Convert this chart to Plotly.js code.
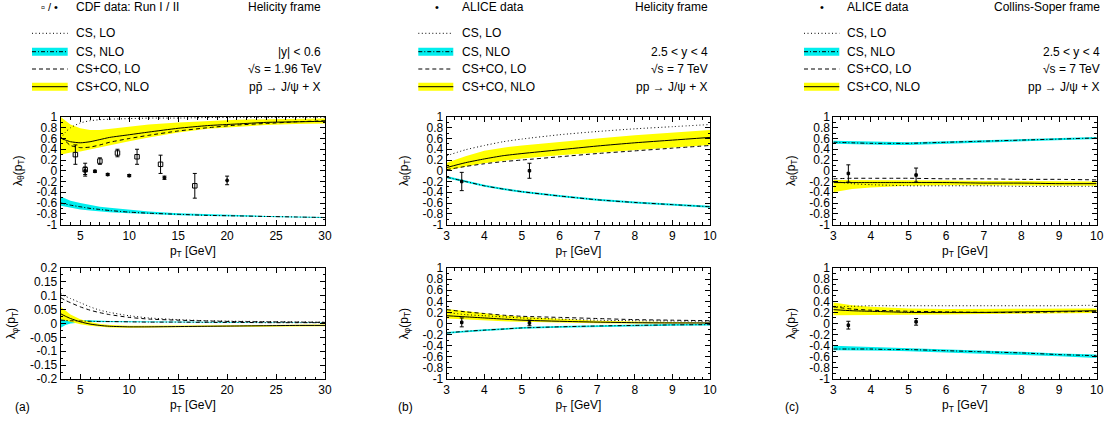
<!DOCTYPE html>
<html><head><meta charset="utf-8">
<script src="https://cdn.plot.ly/plotly-3.0.1.min.js"></script>
<style>html,body{margin:0;padding:0;background:#fff}#chart{width:1110px;height:421px}</style>
</head><body><div id="chart"></div>
<script>
// ---------- DATA ----------
// Panel (a): CDF, helicity frame
const ptA = [3, 3.5, 4, 5, 6, 7, 8, 10, 12, 15, 18, 21, 24, 27, 30];
const aThCSLO      = [0.60, 0.72, 0.80, 0.89, 0.93, 0.95, 0.96, 0.97, 0.98, 0.98, 0.99, 0.99, 0.99, 0.99, 0.99];
const aThCSNLO     = [-0.60, -0.62, -0.64, -0.67, -0.70, -0.72, -0.74, -0.77, -0.79, -0.81, -0.83, -0.84, -0.85, -0.86, -0.87];
const aThCSNLOlo   = [-0.65, -0.67, -0.69, -0.72, -0.74, -0.76, -0.77, -0.79, -0.81, -0.83, -0.84, -0.85, -0.86, -0.87, -0.88];
const aThCSNLOhi   = [-0.48, -0.52, -0.56, -0.60, -0.64, -0.67, -0.69, -0.73, -0.76, -0.79, -0.81, -0.83, -0.84, -0.85, -0.86];
const aThCOLO      = [0.62, 0.55, 0.47, 0.43, 0.44, 0.48, 0.53, 0.60, 0.66, 0.74, 0.80, 0.85, 0.88, 0.91, 0.93];
const aThCONLO     = [0.61, 0.57, 0.54, 0.52, 0.54, 0.58, 0.62, 0.67, 0.72, 0.79, 0.84, 0.87, 0.90, 0.91, 0.92];
const aThCONLOlo   = [0.30, 0.32, 0.34, 0.36, 0.40, 0.44, 0.48, 0.55, 0.62, 0.71, 0.78, 0.82, 0.85, 0.87, 0.88];
const aThCONLOhi   = [1.00, 0.93, 0.86, 0.79, 0.76, 0.76, 0.78, 0.82, 0.86, 0.90, 0.93, 0.95, 0.96, 0.97, 0.97];
const aPhCSLO      = [0.108, 0.098, 0.090, 0.075, 0.060, 0.048, 0.040, 0.028, 0.020, 0.014, 0.010, 0.008, 0.007, 0.006, 0.005];
const aPhCSNLO     = [0.012, 0.011, 0.010, 0.009, 0.008, 0.007, 0.007, 0.006, 0.005, 0.005, 0.004, 0.004, 0.003, 0.003, 0.003];
const aPhCSNLOlo   = [-0.015, -0.005, 0.000, 0.004, 0.005, 0.005, 0.005, 0.005, 0.004, 0.004, 0.003, 0.003, 0.002, 0.002, 0.002];
const aPhCSNLOhi   = [0.025, 0.020, 0.016, 0.013, 0.011, 0.010, 0.009, 0.008, 0.007, 0.006, 0.005, 0.005, 0.004, 0.004, 0.004];
const aPhCOLO      = [0.093, 0.083, 0.075, 0.060, 0.048, 0.039, 0.032, 0.022, 0.016, 0.012, 0.009, 0.007, 0.006, 0.005, 0.004];
const aPhCONLO     = [0.035, 0.026, 0.018, 0.006, -0.002, -0.007, -0.010, -0.012, -0.012, -0.011, -0.010, -0.009, -0.008, -0.007, -0.007];
const aPhCONLOlo   = [0.015, 0.010, 0.005, -0.003, -0.008, -0.012, -0.014, -0.015, -0.015, -0.014, -0.013, -0.012, -0.011, -0.010, -0.010];
const aPhCONLOhi   = [0.060, 0.045, 0.032, 0.015, 0.005, -0.002, -0.005, -0.008, -0.008, -0.007, -0.006, -0.006, -0.005, -0.005, -0.004];
const cdfRunIpt   = [4.5, 5.5, 7.0, 8.8, 10.8, 13.2, 16.7];
const cdfRunIval  = [0.30, 0.02, 0.18, 0.33, 0.26, 0.12, -0.28];
const cdfRunIerr  = [0.18, 0.12, 0.06, 0.07, 0.14, 0.17, 0.23];
const cdfRunIIpt  = [5.5, 6.5, 7.8, 10.0, 13.6, 20.0];
const cdfRunIIval = [0.00, -0.01, -0.07, -0.09, -0.13, -0.18];
const cdfRunIIerr = [0.07, 0.02, 0.02, 0.02, 0.03, 0.08];

// Panel (b): ALICE, helicity frame
const ptB = [3, 3.5, 4, 4.5, 5, 6, 7, 8, 9, 10];
const bThCSLO    = [0.28, 0.39, 0.47, 0.54, 0.59, 0.67, 0.73, 0.78, 0.82, 0.86];
const bThCSNLO   = [-0.12, -0.20, -0.28, -0.34, -0.39, -0.47, -0.54, -0.59, -0.63, -0.67];
const bThCSNLOlo = [-0.14, -0.22, -0.30, -0.36, -0.41, -0.49, -0.56, -0.61, -0.65, -0.69];
const bThCSNLOhi = [-0.10, -0.18, -0.26, -0.32, -0.37, -0.45, -0.52, -0.57, -0.61, -0.65];
const bThCOLO    = [0.02, 0.08, 0.13, 0.17, 0.20, 0.26, 0.32, 0.37, 0.42, 0.47];
const bThCONLO   = [0.06, 0.15, 0.22, 0.28, 0.32, 0.39, 0.46, 0.52, 0.57, 0.62];
const bThCONLOlo = [0.00, 0.08, 0.14, 0.19, 0.23, 0.29, 0.34, 0.39, 0.44, 0.48];
const bThCONLOhi = [0.15, 0.27, 0.37, 0.43, 0.47, 0.54, 0.60, 0.66, 0.71, 0.76];
const bPhCSLO    = [0.20, 0.16, 0.14, 0.12, 0.10, 0.08, 0.06, 0.05, 0.045, 0.04];
const bPhCSNLO   = [-0.17, -0.14, -0.12, -0.10, -0.08, -0.06, -0.045, -0.035, -0.025, -0.02];
const bPhCSNLOlo = [-0.185, -0.155, -0.135, -0.115, -0.095, -0.075, -0.06, -0.05, -0.04, -0.035];
const bPhCSNLOhi = [-0.155, -0.125, -0.105, -0.085, -0.065, -0.045, -0.03, -0.02, -0.01, -0.005];
const bPhCOLO    = [0.25, 0.21, 0.18, 0.15, 0.13, 0.11, 0.09, 0.07, 0.06, 0.05];
const bPhCONLO   = [0.14, 0.12, 0.10, 0.08, 0.06, 0.04, 0.025, 0.015, 0.01, 0.01];
const bPhCONLOlo = [0.09, 0.07, 0.05, 0.04, 0.03, 0.015, 0.005, 0.00, 0.00, 0.00];
const bPhCONLOhi = [0.26, 0.22, 0.18, 0.15, 0.12, 0.08, 0.05, 0.035, 0.025, 0.02];
const aliceHXpt   = [3.4, 5.2];
const aliceHXth   = [-0.20, 0.00];
const aliceHXthE  = [0.17, 0.14];
const aliceHXph   = [0.02, 0.01];
const aliceHXphE  = [0.08, 0.05];

// Panel (c): ALICE, Collins-Soper frame
const ptC = [3, 3.5, 4, 4.5, 5, 6, 7, 8, 9, 10];
const cThCSLO    = [-0.20, -0.24, -0.26, -0.27, -0.28, -0.28, -0.28, -0.29, -0.29, -0.29];
const cThCSNLO   = [0.53, 0.52, 0.51, 0.51, 0.51, 0.53, 0.55, 0.57, 0.59, 0.61];
const cThCSNLOlo = [0.50, 0.49, 0.48, 0.48, 0.48, 0.50, 0.52, 0.54, 0.57, 0.59];
const cThCSNLOhi = [0.56, 0.55, 0.54, 0.53, 0.53, 0.55, 0.57, 0.59, 0.61, 0.63];
const cThCOLO    = [-0.15, -0.14, -0.14, -0.14, -0.14, -0.15, -0.15, -0.16, -0.16, -0.17];
const cThCONLO   = [-0.22, -0.22, -0.22, -0.22, -0.22, -0.22, -0.23, -0.23, -0.24, -0.24];
const cThCONLOlo = [-0.40, -0.34, -0.31, -0.29, -0.28, -0.27, -0.27, -0.27, -0.28, -0.28];
const cThCONLOhi = [-0.17, -0.17, -0.17, -0.17, -0.18, -0.18, -0.19, -0.19, -0.20, -0.20];
const cPhCSLO    = [0.30, 0.31, 0.32, 0.32, 0.32, 0.32, 0.32, 0.32, 0.32, 0.33];
const cPhCSNLO   = [-0.46, -0.46, -0.46, -0.47, -0.47, -0.49, -0.51, -0.53, -0.56, -0.58];
const cPhCSNLOlo = [-0.48, -0.48, -0.48, -0.49, -0.50, -0.52, -0.54, -0.56, -0.59, -0.62];
const cPhCSNLOhi = [-0.40, -0.41, -0.42, -0.43, -0.44, -0.46, -0.48, -0.51, -0.54, -0.56];
const cPhCOLO    = [0.30, 0.26, 0.24, 0.23, 0.22, 0.21, 0.20, 0.20, 0.21, 0.22];
const cPhCONLO   = [0.25, 0.23, 0.22, 0.21, 0.20, 0.20, 0.20, 0.21, 0.22, 0.23];
const cPhCONLOlo = [0.15, 0.15, 0.15, 0.15, 0.15, 0.16, 0.17, 0.18, 0.19, 0.19];
const cPhCONLOhi = [0.38, 0.33, 0.30, 0.28, 0.27, 0.26, 0.26, 0.26, 0.27, 0.27];
const aliceCSpt   = [3.4, 5.2];
const aliceCSth   = [-0.05, -0.08];
const aliceCSthE  = [0.16, 0.13];
const aliceCSph   = [-0.03, 0.03];
const aliceCSphE  = [0.07, 0.06];

// tick labels
const yTickVals1 = [-1, -0.8, -0.6, -0.4, -0.2, 0, 0.2, 0.4, 0.6, 0.8, 1];
const yTickText1 = ['-1', '-0.8', '-0.6', '-0.4', '-0.2', '0', '0.2', '0.4', '0.6', '0.8', '1'];
const yTickVals2 = [-0.2, -0.15, -0.1, -0.05, 0, 0.05, 0.1, 0.15, 0.2];
const yTickText2 = ['-0.2', '-0.15', '-0.1', '-0.05', '0', '0.05', '0.1', '0.15', '0.2'];

// ---------- STYLE / BUILD ----------
const W = 1110, H = 421;
const FONT = 'Liberation Sans, Arial, Helvetica, sans-serif';
const FS = 12;
const CYAN = '#00eeee', YELLOW = '#ffff00';
const DOT = '1px,2.5px', DASH = '4px,3px', DASHDOT = '4px,2px,1px,2px';
const px = v => v / W, py = v => 1 - v / H;

const traces = [];
function band(x, lo, hi, color, ax) {
  traces.push({x: x, y: lo, xaxis: 'x' + ax, yaxis: 'y' + ax, mode: 'lines', line: {width: 0, color: color}, showlegend: false, hoverinfo: 'skip'});
  traces.push({x: x, y: hi, xaxis: 'x' + ax, yaxis: 'y' + ax, mode: 'lines', line: {width: 0, color: color}, fill: 'tonexty', fillcolor: color, showlegend: false, hoverinfo: 'skip'});
}
function line(x, y, dash, ax) {
  traces.push({x: x, y: y, xaxis: 'x' + ax, yaxis: 'y' + ax, mode: 'lines', line: {width: 1, color: '#000', dash: dash, shape: 'spline', smoothing: 0.6}, showlegend: false});
}
function pts(x, y, e, sym, size, ax) {
  traces.push({x: x, y: y, xaxis: 'x' + ax, yaxis: 'y' + ax, mode: 'markers', showlegend: false,
    marker: {symbol: sym, size: size, color: '#000', line: {color: '#000', width: 1}},
    error_y: {type: 'data', array: e, visible: true, color: '#000', thickness: 1, width: 2}});
}
function panel(x, csLO, csNLO, csLo, csHi, coLO, coNLO, coLo, coHi, ax) {
  band(x, csLo, csHi, CYAN, ax);
  band(x, coLo, coHi, YELLOW, ax);
  line(x, csLO, DOT, ax);
  line(x, csNLO, DASHDOT, ax);
  line(x, coLO, DASH, ax);
  line(x, coNLO, 'solid', ax);
}
panel(ptA, aThCSLO, aThCSNLO, aThCSNLOlo, aThCSNLOhi, aThCOLO, aThCONLO, aThCONLOlo, aThCONLOhi, '');
pts(cdfRunIpt, cdfRunIval, cdfRunIerr, 'square-open', 4.5, '');
pts(cdfRunIIpt, cdfRunIIval, cdfRunIIerr, 'circle', 3, '');
panel(ptA, aPhCSLO, aPhCSNLO, aPhCSNLOlo, aPhCSNLOhi, aPhCOLO, aPhCONLO, aPhCONLOlo, aPhCONLOhi, '2');
panel(ptB, bThCSLO, bThCSNLO, bThCSNLOlo, bThCSNLOhi, bThCOLO, bThCONLO, bThCONLOlo, bThCONLOhi, '3');
pts(aliceHXpt, aliceHXth, aliceHXthE, 'square', 2.5, '3');
panel(ptB, bPhCSLO, bPhCSNLO, bPhCSNLOlo, bPhCSNLOhi, bPhCOLO, bPhCONLO, bPhCONLOlo, bPhCONLOhi, '4');
pts(aliceHXpt, aliceHXph, aliceHXphE, 'square', 2.5, '4');
panel(ptC, cThCSLO, cThCSNLO, cThCSNLOlo, cThCSNLOhi, cThCOLO, cThCONLO, cThCONLOlo, cThCONLOhi, '5');
pts(aliceCSpt, aliceCSth, aliceCSthE, 'square', 2.5, '5');
panel(ptC, cPhCSLO, cPhCSNLO, cPhCSNLOlo, cPhCSNLOhi, cPhCOLO, cPhCONLO, cPhCONLOlo, cPhCONLOhi, '6');
pts(aliceCSpt, aliceCSph, aliceCSphE, 'square', 2.5, '6');

const XD = {a: [60.7, 325], b: [446.7, 710], c: [833.3, 1096.7]};
const YD = {top: [117, 224.5], bot: [268, 379]};
const tf = {family: FONT, size: FS, color: '#000'};
function xax(dom, range, dtick, mdt, anchor) {
  return {domain: [px(dom[0]), px(dom[1])], range: range, anchor: anchor, dtick: dtick, tick0: 0,
    showline: true, mirror: 'allticks', linecolor: '#000', linewidth: 1, ticks: 'inside', ticklen: 5, tickcolor: '#000',
    minor: {dtick: mdt, ticks: 'inside', ticklen: 2.5, tickcolor: '#000', showgrid: false},
    showgrid: false, zeroline: false, tickfont: tf, automargin: false,
    title: {text: 'p<sub>T</sub> [GeV]', font: tf, standoff: 4}};
}
function yax(dom, range, vals, text, mdt, anchor, ttl) {
  return {domain: [py(dom[1]), py(dom[0])], range: range, anchor: anchor, tickmode: 'array', tickvals: vals, ticktext: text,
    showline: true, mirror: 'allticks', linecolor: '#000', linewidth: 1, ticks: 'inside', ticklen: 5, tickcolor: '#000',
    minor: {dtick: mdt, tick0: 0, ticks: 'inside', ticklen: 2.5, tickcolor: '#000', showgrid: false},
    showgrid: false, zeroline: false, tickfont: tf, automargin: false,
    title: {text: ttl, font: tf, standoff: 11}};
}
const TH = 'λ<sub>θ</sub>(p<sub>T</sub>)', PH = 'λ<sub>φ</sub>(p<sub>T</sub>)';
const layout = {
  width: W, height: H, margin: {l: 0, r: 0, t: 0, b: 0}, paper_bgcolor: '#fff', plot_bgcolor: '#fff',
  showlegend: false, font: tf,
  xaxis:  xax(XD.a, [3, 30], 5, 1, 'y'),
  yaxis:  yax(YD.top, [-1, 1], yTickVals1, yTickText1, 0.1, 'x', TH),
  xaxis2: xax(XD.a, [3, 30], 5, 1, 'y2'),
  yaxis2: yax(YD.bot, [-0.2, 0.2], yTickVals2, yTickText2, 0.025, 'x2', PH),
  xaxis3: xax(XD.b, [3, 10], 1, 0.2, 'y3'),
  yaxis3: yax(YD.top, [-1, 1], yTickVals1, yTickText1, 0.1, 'x3', TH),
  xaxis4: xax(XD.b, [3, 10], 1, 0.2, 'y4'),
  yaxis4: yax(YD.bot, [-1, 1], yTickVals1, yTickText1, 0.1, 'x4', PH),
  xaxis5: xax(XD.c, [3, 10], 1, 0.2, 'y5'),
  yaxis5: yax(YD.top, [-1, 1], yTickVals1, yTickText1, 0.1, 'x5', TH),
  xaxis6: xax(XD.c, [3, 10], 1, 0.2, 'y6'),
  yaxis6: yax(YD.bot, [-1, 1], yTickVals1, yTickText1, 0.1, 'x6', PH),
  shapes: [], annotations: []
};

// legends (drawn in paper coordinates)
const ROWS = [33.3, 51.7, 69, 86.7];
const legendLabels = ['CS, LO', 'CS, NLO', 'CS+CO, LO', 'CS+CO, NLO'];
function ann(x, y, text, xanchor, size) {
  layout.annotations.push({xref: 'paper', yref: 'paper', x: px(x), y: py(y), text: text, showarrow: false,
    xanchor: xanchor, yanchor: 'middle', font: {family: FONT, size: size || FS, color: '#000'}});
}
function legend(sx0, sx1, tx, rx, headSym, headX, headText, frame, rtexts) {
  const S = layout.shapes;
  S.push({type: 'line', xref: 'paper', yref: 'paper', x0: px(sx0), x1: px(sx1), y0: py(ROWS[0]), y1: py(ROWS[0]), line: {color: '#000', width: 1, dash: DOT}});
  S.push({type: 'rect', xref: 'paper', yref: 'paper', x0: px(sx0), x1: px(sx1), y0: py(ROWS[1] - 4), y1: py(ROWS[1] + 4), fillcolor: CYAN, line: {width: 0}});
  S.push({type: 'line', xref: 'paper', yref: 'paper', x0: px(sx0), x1: px(sx1), y0: py(ROWS[1]), y1: py(ROWS[1]), line: {color: '#000', width: 1, dash: DASHDOT}});
  S.push({type: 'line', xref: 'paper', yref: 'paper', x0: px(sx0), x1: px(sx1), y0: py(ROWS[2]), y1: py(ROWS[2]), line: {color: '#000', width: 1, dash: DASH}});
  S.push({type: 'rect', xref: 'paper', yref: 'paper', x0: px(sx0), x1: px(sx1), y0: py(ROWS[3] - 4), y1: py(ROWS[3] + 4), fillcolor: YELLOW, line: {width: 0}});
  S.push({type: 'line', xref: 'paper', yref: 'paper', x0: px(sx0), x1: px(sx1), y0: py(ROWS[3]), y1: py(ROWS[3]), line: {color: '#000', width: 1}});
  ann(headX, 7.3, headSym, 'center', 11);
  ann(tx, 7.3, headText, 'left');
  ann(rx, 7.3, frame, 'right');
  legendLabels.forEach((t, i) => ann(tx, ROWS[i], t, 'left'));
  rtexts.forEach((t, i) => ann(rx, ROWS[i + 1], t, 'right'));
}
legend(32, 67.7, 74, 323, '▫ / •', 49, 'CDF data: Run I / II', 'Helicity frame', ['|y| &lt; 0.6', '√s = 1.96 TeV', 'pp̄ → J/ψ + X']);
legend(418.3, 453.3, 460, 710, '•', 436.7, 'ALICE data', 'Helicity frame', ['2.5 &lt; y &lt; 4', '√s = 7 TeV', 'pp → J/ψ + X']);
legend(804, 839.3, 845, 1101.7, '•', 821.7, 'ALICE data', 'Collins-Soper frame', ['2.5 &lt; y &lt; 4', '√s = 7 TeV', 'pp → J/ψ + X']);
ann(13, 407, '(a)', 'left');
ann(396, 407, '(b)', 'left');
ann(783, 407, '(c)', 'left');

Plotly.newPlot('chart', traces, layout, {staticPlot: true, displayModeBar: false});
</script></body></html>
